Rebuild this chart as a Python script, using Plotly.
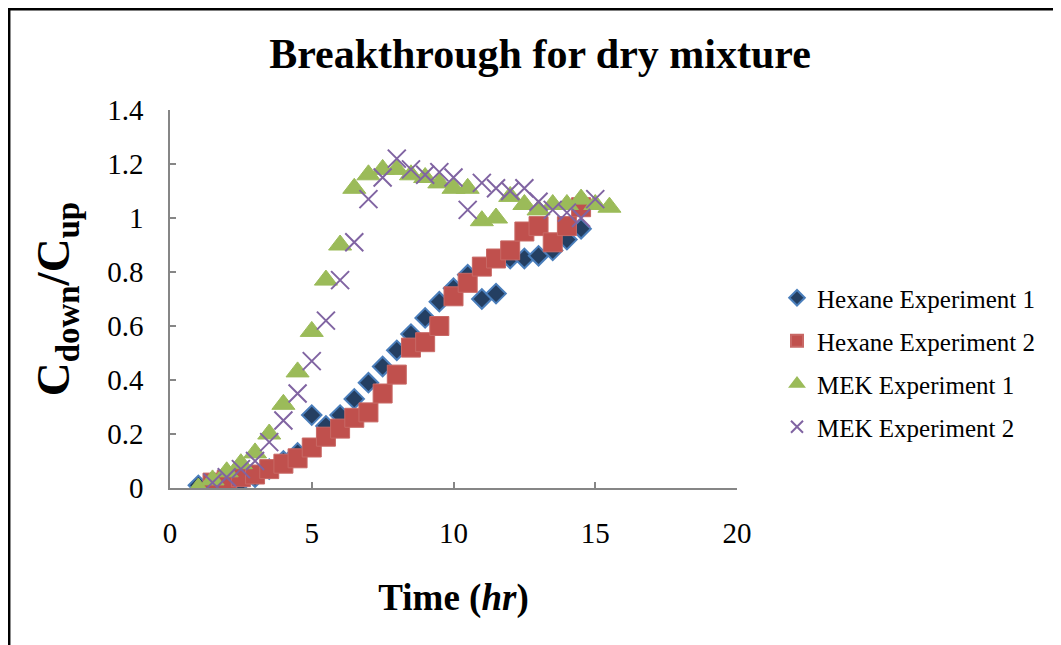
import plotly.graph_objects as go

# ---- data ----
hex1_t = [1, 1.5, 2, 2.5, 3, 3.5, 4, 4.5, 5, 5.5, 6, 6.5, 7, 7.5, 8, 8.5, 9, 9.5,
          10, 10.5, 11, 11.5, 12, 12.5, 13, 13.5, 14, 14.5]
hex1_c = [0.01, 0.01, 0.01, 0.02, 0.04, 0.07, 0.10, 0.13, 0.27, 0.23, 0.27, 0.33,
          0.39, 0.45, 0.51, 0.57, 0.63, 0.69, 0.74, 0.79, 0.70, 0.72, 0.85, 0.85,
          0.86, 0.88, 0.92, 0.96]

hex2_t = [1.5, 2, 2.5, 3, 3.5, 4, 4.5, 5, 5.5, 6, 6.5, 7, 7.5, 8, 8.5, 9, 9.5,
          10, 10.5, 11, 11.5, 12, 12.5, 13, 13.5, 14, 14.5]
hex2_c = [0.02, 0.03, 0.04, 0.05, 0.07, 0.09, 0.11, 0.15, 0.19, 0.22, 0.26, 0.28,
          0.35, 0.42, 0.52, 0.54, 0.60, 0.71, 0.76, 0.82, 0.85, 0.88, 0.95, 0.97,
          0.91, 0.97, 1.04]

mek1_t = [1, 1.5, 2, 2.5, 3, 3.5, 4, 4.5, 5, 5.5, 6, 6.5, 7, 7.5, 8, 8.5, 9, 9.5,
          10, 10.5, 11, 11.5, 12, 12.5, 13, 13.5, 14, 14.5, 15, 15.5]
mek1_c = [0.00, 0.03, 0.06, 0.09, 0.13, 0.20, 0.31, 0.43, 0.58, 0.77, 0.90, 1.11,
          1.16, 1.18, 1.18, 1.16, 1.15, 1.13, 1.11, 1.11, 0.99, 1.00, 1.08, 1.05,
          1.03, 1.05, 1.05, 1.07, 1.05, 1.04]

mek2_t = [1.5, 2, 2.5, 3, 3.5, 4, 4.5, 5, 5.5, 6, 6.5, 7, 7.5, 8, 8.5, 9, 9.5,
          10, 10.5, 11, 11.5, 12, 12.5, 13, 13.5, 14, 14.5, 15]
mek2_c = [0.02, 0.04, 0.07, 0.10, 0.17, 0.25, 0.35, 0.47, 0.62, 0.77, 0.91, 1.07,
          1.15, 1.22, 1.18, 1.16, 1.17, 1.15, 1.03, 1.13, 1.11, 1.10, 1.11, 1.06,
          1.03, 1.02, 1.00, 1.07]

series_names = ["Hexane Experiment 1", "Hexane Experiment 2",
                "MEK Experiment 1", "MEK Experiment 2"]

x_ticks = [0, 5, 10, 15, 20]
y_ticks = [0, 0.2, 0.4, 0.6, 0.8, 1, 1.2, 1.4]

# ---- layout geometry ----
# the page body adds an 8px offset, so work in page pixels and convert
OFF = 8
W, H = 1061 - OFF, 645 - OFF
PL, PR, PT, PB = 170, 737, 110, 488          # plot area in page pixels
L, T = PL - OFF, PT - OFF
R, B = W - (PR - OFF), H - (PB - OFF)
PW, PH = W - L - R, H - T - B

def px_x(p):
    return (p - OFF - L) / PW

def px_y(p):
    return (H - B - (p - OFF)) / PH

FONT = "Liberation Serif, Times New Roman, serif"

fig = go.Figure()
fig.add_trace(go.Scatter(
    x=hex1_t, y=hex1_c, mode="markers", name=series_names[0], legendgroup="a",
    marker=dict(symbol="diamond", size=15, color="#243F62",
                line=dict(color="#4A7EBB", width=2))))
fig.add_trace(go.Scatter(
    x=hex2_t, y=hex2_c, mode="markers", name=series_names[1], legendgroup="b",
    marker=dict(symbol="square", size=19, color="#C0504D",
                line=dict(color="#C86865", width=1))))
fig.add_trace(go.Scatter(
    x=mek1_t, y=mek1_c, mode="markers", name=series_names[2], legendgroup="c",
    marker=dict(symbol="triangle-up", size=20, color="#9BBB59",
                line=dict(color="#9BBB59", width=1))))
fig.add_trace(go.Scatter(
    x=mek2_t, y=mek2_c, mode="markers", name=series_names[3], legendgroup="d",
    marker=dict(symbol="x-thin", size=18, color="#8064A2",
                line=dict(color="#8064A2", width=2))))

fig.update_layout(
    width=W, height=H,
    margin=dict(l=L, r=R, t=T, b=B, autoexpand=False),
    paper_bgcolor="white", plot_bgcolor="white",
    font=dict(family=FONT, color="black"),
    title=dict(text="<b>Breakthrough for dry mixture</b>",
               font=dict(family=FONT, size=42, color="black"),
               x=(540 - OFF) / W, xanchor="center", y=1 - (53 - OFF) / H,
               yanchor="middle"),
    xaxis=dict(range=[0, 20], tickvals=x_ticks, showgrid=False, zeroline=False,
               showline=True, linecolor="#868686", linewidth=1.5,
               ticks="inside", ticklen=6, tickcolor="#868686", tickwidth=1.5,
               tickfont=dict(family=FONT, size=29, color="black"),
               ticklabelstandoff=18,
               title=dict(text="<b>Time (<i>hr</i>)</b>",
                          font=dict(family=FONT, size=37, color="black"),
                          standoff=37)),
    yaxis=dict(range=[0, 1.4], tickvals=y_ticks, showgrid=False, zeroline=False,
               showline=True, linecolor="#868686", linewidth=1.5,
               ticks="inside", ticklen=6, tickcolor="#868686", tickwidth=1.5,
               tickfont=dict(family=FONT, size=29, color="black"),
               ticklabelstandoff=19,
               title=dict(text="<b>C<sub>down</sub>/C<sub>up</sub></b>",
                          font=dict(family=FONT, size=47, color="black"),
                          standoff=23)),
    legend=dict(x=px_x(777), y=px_y(275), xanchor="left", yanchor="top",
                font=dict(family=FONT, size=25, color="black"),
                bgcolor="rgba(0,0,0,0)", itemsizing="constant",
                traceorder="grouped", tracegroupgap=7.5, itemwidth=30),
    showlegend=True,
)

# outer chart frame
fig.add_shape(type="rect", xref="paper", yref="paper",
              x0=px_x(9.2), x1=px_x(1059), y0=px_y(700), y1=px_y(9.2),
              line=dict(color="black", width=2.5), fillcolor="rgba(0,0,0,0)",
              layer="below")

fig.write_html("out.html")
